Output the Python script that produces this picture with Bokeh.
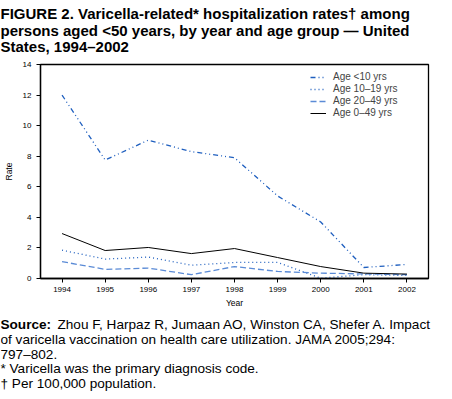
from bokeh.plotting import figure
from bokeh.models import Label, Legend, LegendItem, FixedTicker, Range1d
from bokeh.layouts import column
from bokeh.embed import file_html
from bokeh.resources import INLINE

years = [1994, 1995, 1996, 1997, 1998, 1999, 2000, 2001, 2002]
age_lt10 = [12.0, 7.75, 9.05, 8.3, 7.9, 5.4, 3.7, 0.72, 0.92]
age_10_19 = [1.85, 1.27, 1.4, 0.87, 1.05, 1.05, 0.02, 0.25, 0.2]
age_20_49 = [1.1, 0.6, 0.68, 0.25, 0.78, 0.46, 0.35, 0.3, 0.25]
age_0_49 = [2.94, 1.83, 2.03, 1.63, 1.96, 1.37, 0.78, 0.35, 0.29]
y_ticks = [0, 2, 4, 6, 8, 10, 12, 14]

title_lines = ["FIGURE 2. Varicella-related* hospitalization rates† among",
               "persons aged <50 years, by year and age group — United",
               "States, 1994–2002"]
source_bold = "Source:"
source_rest = "Zhou F, Harpaz R, Jumaan AO, Winston CA, Shefer A. Impact"
notes = ["of varicella vaccination on health care utilization. JAMA 2005;294:",
         "797–802.",
         "* Varicella was the primary diagnosis code.",
         "† Per 100,000 population."]

FONT = "Liberation Sans"
W = 436


def blank(h):
    f = figure(width=W, height=h, output_backend="svg", toolbar_location=None,
               x_range=Range1d(0, W), y_range=Range1d(h, 0),
               x_axis_type=None, y_axis_type=None, frame_align=False,
               min_border=0, min_border_left=0, min_border_right=0,
               min_border_top=0, min_border_bottom=0)
    f.grid.visible = False
    f.outline_line_color = None
    f.border_fill_color = "white"
    f.background_fill_color = "white"
    return f


def lab(f, x, y, t, size, bold=False):
    f.add_layout(Label(x=x, y=y, text=t, text_font=FONT, text_font_size=size,
                       text_font_style="bold" if bold else "normal",
                       text_color="black", text_baseline="alphabetic"))


# Title
ft = blank(58)
for i, t in enumerate(title_lines):
    lab(ft, 0, 13.3 + 16.4 * i, t, "15px", True)

# Main chart
p = figure(width=W, height=252, output_backend="svg", toolbar_location=None,
           x_range=Range1d(1993.5, 2002.5), y_range=Range1d(0, 14), frame_align=False,
           min_border_left=34, min_border_right=8, min_border_top=6, min_border_bottom=31)
p.grid.visible = False
p.outline_line_color = "black"
p.outline_line_width = 1.3
p.background_fill_color = "white"
p.border_fill_color = "white"

for ax in (p.xaxis[0], p.yaxis[0]):
    ax.axis_line_color = "black"
    ax.axis_line_width = 1.3
    ax.major_tick_in = 0
    ax.major_tick_out = 4
    ax.major_tick_line_color = "black"
    ax.minor_tick_line_color = None
    ax.major_label_text_font = FONT
    ax.major_label_text_font_size = "8px"
    ax.major_label_text_color = "black"
    ax.axis_label_text_font = FONT
    ax.axis_label_text_font_size = "8.5px"
    ax.axis_label_text_font_style = "normal"
    ax.axis_label_text_color = "black"

p.xaxis.ticker = FixedTicker(ticks=years)
p.yaxis.ticker = FixedTicker(ticks=y_ticks)
p.xaxis.axis_label = "Year"
p.yaxis.axis_label = "Rate"
p.xaxis.major_label_standoff = 4
p.xaxis.axis_label_standoff = 3
p.yaxis.axis_label_standoff = 6
p.yaxis.major_label_standoff = 5

r1 = p.line(years, age_lt10, line_color="#1f5fbf", line_width=1.3, line_dash="5 3 1 3 1 3")
r2 = p.line(years, age_10_19, line_color="#1f5fbf", line_width=1.3, line_dash="1 3")
r3 = p.line(years, age_20_49, line_color="#5b8bd6", line_width=1.3, line_dash="6 3")
r4 = p.line(years, age_0_49, line_color="black", line_width=1.0)

legend = Legend(items=[
    LegendItem(label="Age <10 yrs", renderers=[r1]),
    LegendItem(label="Age 10–19 yrs", renderers=[r2]),
    LegendItem(label="Age 20–49 yrs", renderers=[r3]),
    LegendItem(label="Age 0–49 yrs", renderers=[r4]),
], location=(270, 160))
legend.border_line_color = None
legend.background_fill_alpha = 0
legend.label_text_font = FONT
legend.label_text_font_size = "10px"
legend.label_height = 10
legend.glyph_height = 10
legend.glyph_width = 16
legend.spacing = 1
legend.padding = 0
legend.margin = 0
legend.label_standoff = 7
p.add_layout(legend, "center")

# Footnotes
fn = blank(81)
lab(fn, 0, 14, source_bold, "13.6px", True)
lab(fn, 57, 14, source_rest, "13.6px")
for i, t in enumerate(notes):
    lab(fn, 0, 29 + 14.5 * i, t, "13.6px")

layout = column(ft, p, fn, spacing=0)
open("out.html", "w").write(file_html(layout, INLINE))
